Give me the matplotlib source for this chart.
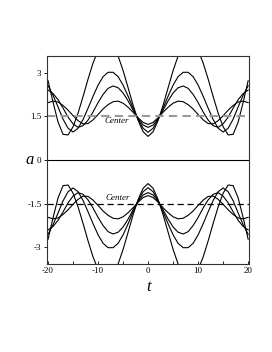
import matplotlib
matplotlib.use("Agg")
import matplotlib.pyplot as plt

plt.rcParams["font.family"] = ["Liberation Serif", "DejaVu Serif"]
plt.rcParams["axes.unicode_minus"] = False

t = list(range(-20, 21))

# upper family (oscillations about the centre a = 1.5)
up1 = [1.97, 2.02, 1.99, 1.87, 1.71, 1.52, 1.35, 1.24, 1.25, 1.38, 1.56, 1.75, 1.90, 2.00, 2.02, 1.95, 1.81, 1.64, 1.45, 1.29,
       1.22,
       1.29, 1.45, 1.64, 1.81, 1.95, 2.02, 2.00, 1.90, 1.75, 1.56, 1.38, 1.25, 1.24, 1.35, 1.52, 1.71, 1.87, 1.99, 2.02, 1.97]
up2 = [2.40, 2.28, 2.07, 1.78, 1.47, 1.24, 1.12, 1.18, 1.37, 1.65, 1.97, 2.25, 2.46, 2.54, 2.48, 2.30, 2.03, 1.71, 1.42, 1.20,
       1.12,
       1.20, 1.42, 1.71, 2.03, 2.30, 2.48, 2.54, 2.46, 2.25, 1.97, 1.65, 1.37, 1.18, 1.12, 1.24, 1.47, 1.78, 2.07, 2.28, 2.40]
up3 = [2.55, 2.22, 1.82, 1.40, 1.09, 0.96, 1.09, 1.39, 1.78, 2.19, 2.57, 2.86, 3.01, 3.01, 2.86, 2.57, 2.19, 1.78, 1.39, 1.09,
       0.95,
       1.09, 1.39, 1.78, 2.19, 2.57, 2.86, 3.01, 3.01, 2.86, 2.57, 2.19, 1.78, 1.39, 1.09, 0.96, 1.09, 1.40, 1.82, 2.22, 2.55]
up4 = [2.72, 1.98, 1.30, 0.88, 0.86, 1.14, 1.61, 2.18, 2.78, 3.33, 3.76, 4.02, 4.07, 3.92, 3.57, 3.07, 2.48, 1.88, 1.36, 0.97,
       0.81,
       0.97, 1.36, 1.88, 2.48, 3.07, 3.57, 3.92, 4.07, 4.02, 3.76, 3.33, 2.78, 2.18, 1.61, 1.14, 0.86, 0.88, 1.30, 1.98, 2.72]

# lower family (oscillations about the centre a = -1.5)
lo1 = [-1.97, -2.02, -1.99, -1.87, -1.71, -1.52, -1.35, -1.24, -1.25, -1.38, -1.56, -1.75, -1.90, -2.00, -2.02, -1.95, -1.81, -1.64, -1.45, -1.29,
       -1.22,
       -1.29, -1.45, -1.64, -1.81, -1.95, -2.02, -2.00, -1.90, -1.75, -1.56, -1.38, -1.25, -1.24, -1.35, -1.52, -1.71, -1.87, -1.99, -2.02, -1.97]
lo2 = [-2.40, -2.28, -2.07, -1.78, -1.47, -1.24, -1.12, -1.18, -1.37, -1.65, -1.97, -2.25, -2.46, -2.54, -2.48, -2.30, -2.03, -1.71, -1.42, -1.20,
       -1.12,
       -1.20, -1.42, -1.71, -2.03, -2.30, -2.48, -2.54, -2.46, -2.25, -1.97, -1.65, -1.37, -1.18, -1.12, -1.24, -1.47, -1.78, -2.07, -2.28, -2.40]
lo3 = [-2.55, -2.22, -1.82, -1.40, -1.09, -0.96, -1.09, -1.39, -1.78, -2.19, -2.57, -2.86, -3.01, -3.01, -2.86, -2.57, -2.19, -1.78, -1.39, -1.09,
       -0.95,
       -1.09, -1.39, -1.78, -2.19, -2.57, -2.86, -3.01, -3.01, -2.86, -2.57, -2.19, -1.78, -1.39, -1.09, -0.96, -1.09, -1.40, -1.82, -2.22, -2.55]
lo4 = [-2.72, -1.98, -1.30, -0.88, -0.86, -1.14, -1.61, -2.18, -2.78, -3.33, -3.76, -4.02, -4.07, -3.92, -3.57, -3.07, -2.48, -1.88, -1.36, -0.97,
       -0.81,
       -0.97, -1.36, -1.88, -2.48, -3.07, -3.57, -3.92, -4.07, -4.02, -3.76, -3.33, -2.78, -2.18, -1.61, -1.14, -0.86, -0.88, -1.30, -1.98, -2.72]

centers = [1.5, -1.5]
yticks = [-3, -1.5, 0, 1.5, 3]
ytick_labels = ["-3", "-1.5", "0", "1.5", "3"]
xticks = [-20, -10, 0, 10, 20]
xticks_minor = [-15, -5, 5, 15]

fig = plt.figure(figsize=(2.72, 3.52), dpi=100)
ax = fig.add_axes([0.173, 0.25, 0.743, 0.591])

for ys in [up1, up2, up3, up4, lo1, lo2, lo3, lo4]:
    ax.plot(t, ys, color="black", linewidth=0.8)

# centre lines
ax.axhline(centers[0], color="#999999", linestyle=(0, (4, 2.5)), linewidth=1.5)
ax.axhline(centers[1], color="black", linestyle=(0, (5, 3)), linewidth=0.9)
ax.axhline(0, color="black", linewidth=0.8)

ax.text(-6.2, 1.33, "Center", style="italic", fontsize=6.5, ha="center", va="center")
ax.text(-6.0, -1.30, "Center", style="italic", fontsize=6.5, ha="center", va="center")

ax.set_xlim(-20.2, 20.2)
ax.set_ylim(-3.57, 3.57)
ax.set_xticks(xticks)
ax.set_xticks(xticks_minor, minor=True)
ax.set_yticks(yticks)
ax.set_yticklabels(ytick_labels)
ax.tick_params(axis="x", which="both", direction="in", length=2, width=0.6, labelsize=6.5, pad=2)
ax.tick_params(axis="y", direction="out", length=2, width=0.6, labelsize=6.5, pad=2)
for sp in ax.spines.values():
    sp.set_linewidth(0.8)
    sp.set_color("#333333")

fig.text(0.11, 0.545, "a", style="italic", fontsize=12, ha="center", va="center")
fig.text(0.545, 0.185, "t", style="italic", fontsize=12, ha="center", va="center")

fig.savefig("out.png", dpi=100)
